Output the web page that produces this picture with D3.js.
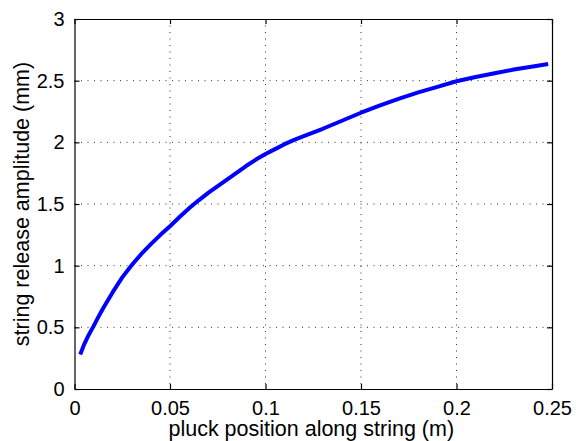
<!DOCTYPE html>
<html><head><meta charset="utf-8">
<script src="https://cdn.jsdelivr.net/npm/d3@7"></script>
<style>body{margin:0;background:#fff}svg{display:block}text{font-family:"Liberation Sans",Arial,sans-serif;fill:#000}</style>
</head><body>
<script>
const xTicks = [0, 0.05, 0.1, 0.15, 0.2, 0.25];
const xTickLabels = ["0", "0.05", "0.1", "0.15", "0.2", "0.25"];
const yTicks = [0, 0.5, 1, 1.5, 2, 2.5, 3];
const yTickLabels = ["0", "0.5", "1", "1.5", "2", "2.5", "3"];
const pluckPos = [0.003,0.005,0.0075,0.01,0.0125,0.015,0.02,0.025,0.03,0.035,0.04,0.045,0.05,0.055,0.06,0.065,0.07,0.075,0.08,0.085,0.09,0.095,0.1,0.105,0.11,0.115,0.12,0.13,0.14,0.15,0.16,0.17,0.18,0.19,0.2,0.21,0.22,0.23,0.24,0.248];
const amplitude = [0.28,0.36,0.44,0.51,0.585,0.655,0.785,0.905,1.005,1.095,1.175,1.25,1.32,1.395,1.465,1.53,1.59,1.645,1.70,1.755,1.81,1.86,1.905,1.945,1.985,2.02,2.05,2.11,2.175,2.24,2.30,2.355,2.405,2.45,2.495,2.53,2.56,2.59,2.615,2.635];
const xLabel = "pluck position along string (m)";
const yLabel = "string release amplitude (mm)";

const W = 576, H = 441;
const L = 74.5, R = 552, T = 19, B = 389;
const svg = d3.select("body").append("svg").attr("width", W).attr("height", H);
const x = d3.scaleLinear().domain([0, 0.25]).range([L, R]);
const y = d3.scaleLinear().domain([0, 3]).range([B, T]);

// grid
const g = svg.append("g");
g.selectAll("line.vx").data(xTicks.slice(1, -1)).enter().append("line")
  .attr("x1", d => x(d)).attr("x2", d => x(d)).attr("y1", T).attr("y2", B)
  .attr("stroke", "#333").attr("stroke-width", 1).attr("stroke-dasharray", "1,5.5");
g.selectAll("line.hy").data(yTicks.slice(1, -1)).enter().append("line")
  .attr("y1", d => y(d)).attr("y2", d => y(d)).attr("x1", L).attr("x2", R)
  .attr("stroke", "#333").attr("stroke-width", 1).attr("stroke-dasharray", "1,5.5");

// axes with inward ticks
const tl = 5;
const axB = d3.axisBottom(x).tickValues(xTicks).tickSizeInner(-tl).tickSizeOuter(0).tickFormat((d, i) => xTickLabels[i]).tickPadding(12);
const axL = d3.axisLeft(y).tickValues(yTicks).tickSizeInner(-tl).tickSizeOuter(0).tickFormat((d, i) => yTickLabels[i]).tickPadding(10);
const axT = d3.axisTop(x).tickValues(xTicks).tickSizeInner(-tl).tickSizeOuter(0).tickFormat("");
const axR = d3.axisRight(y).tickValues(yTicks).tickSizeInner(-tl).tickSizeOuter(0).tickFormat("");
function style(sel) {
  sel.selectAll("path").attr("stroke", "#000").attr("stroke-width", 1.2);
  sel.selectAll("line").attr("stroke", "#000").attr("stroke-width", 1.2);
  sel.selectAll("text").style("font-family", '"Liberation Sans",Arial,sans-serif').style("font-size", "20px").attr("fill", "#000");
}
style(svg.append("g").attr("transform", `translate(0,${B})`).call(axB));
style(svg.append("g").attr("transform", `translate(${L},0)`).call(axL));
style(svg.append("g").attr("transform", `translate(0,${T})`).call(axT));
style(svg.append("g").attr("transform", `translate(${R},0)`).call(axR));

// curve
const data = pluckPos.map((p, i) => [p, amplitude[i]]);
svg.append("path").datum(data)
  .attr("fill", "none").attr("stroke", "#0000ff").attr("stroke-width", 4).attr("stroke-linejoin", "round")
  .attr("d", d3.line().x(d => x(d[0])).y(d => y(d[1])));

// labels
svg.append("text").attr("x", (L + R) / 2 - 2).attr("y", 436).attr("text-anchor", "middle")
  .style("font-size", "21.5px").text(xLabel);
svg.append("text").attr("transform", `translate(29,${(T + B) / 2}) rotate(-90)`).attr("text-anchor", "middle")
  .style("font-size", "21.5px").text(yLabel);
</script>
</body></html>
